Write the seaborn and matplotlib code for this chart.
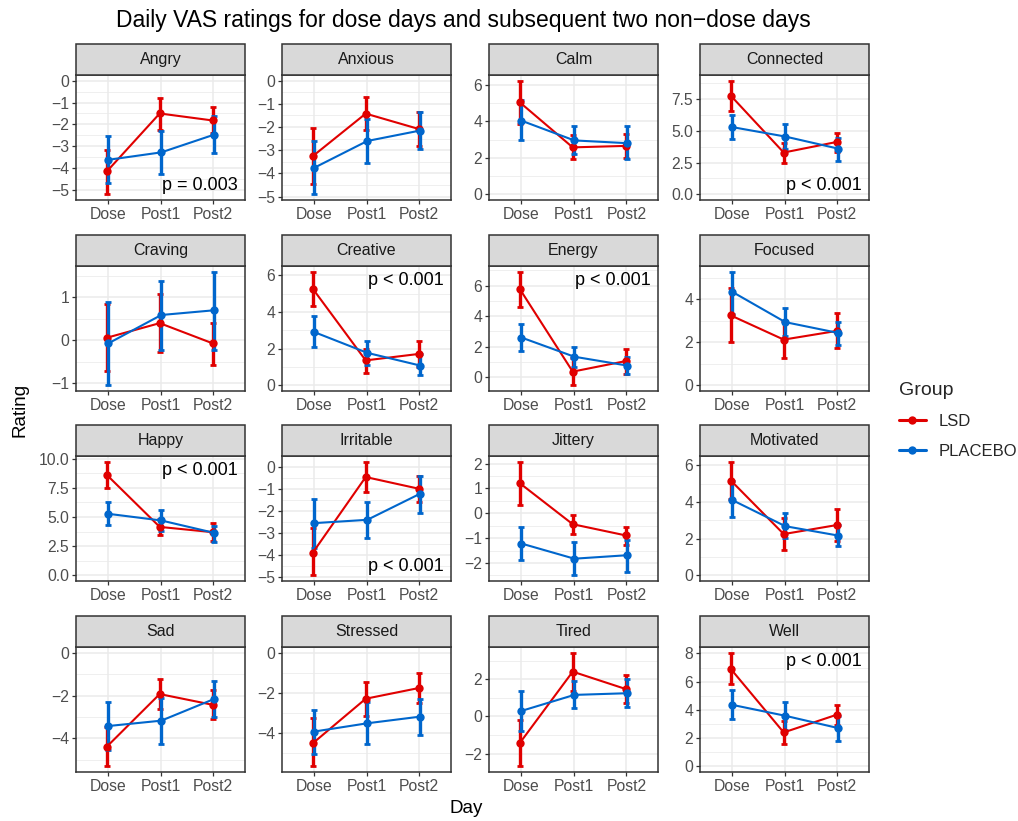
import numpy as np
import pandas as pd
import matplotlib
matplotlib.use("Agg")
import matplotlib.pyplot as plt
from matplotlib.patches import Rectangle
from matplotlib.lines import Line2D
from matplotlib.ticker import MultipleLocator
import seaborn as sns

# ---- data (mean, lower, upper) ----
days = ['Dose', 'Post1', 'Post2']
groups = ['LSD', 'PLACEBO']
measures = ['Angry', 'Anxious', 'Calm', 'Connected',
            'Craving', 'Creative', 'Energy', 'Focused',
            'Happy', 'Irritable', 'Jittery', 'Motivated',
            'Sad', 'Stressed', 'Tired', 'Well']

lsd_mean = {
    'Angry': [-4.15, -1.50, -1.82], 'Anxious': [-3.25, -1.42, -2.08],
    'Calm': [5.03, 2.57, 2.65], 'Connected': [7.76, 3.29, 4.12],
    'Craving': [0.06, 0.40, -0.07], 'Creative': [5.26, 1.36, 1.71],
    'Energy': [5.77, 0.35, 1.04], 'Focused': [3.24, 2.12, 2.52],
    'Happy': [8.60, 4.15, 3.70], 'Irritable': [-3.88, -0.44, -0.97],
    'Jittery': [1.21, -0.44, -0.89], 'Motivated': [5.17, 2.25, 2.74],
    'Sad': [-4.38, -1.93, -2.43], 'Stressed': [-4.50, -2.29, -1.76],
    'Tired': [-1.42, 2.41, 1.48], 'Well': [6.89, 2.40, 3.65],
}
lsd_lo = {
    'Angry': [-5.20, -2.25, -2.40], 'Anxious': [-4.45, -2.12, -2.80],
    'Calm': [3.85, 1.91, 2.00], 'Connected': [6.58, 2.47, 3.32],
    'Craving': [-0.72, -0.27, -0.58], 'Creative': [4.32, 0.68, 1.00],
    'Energy': [4.62, -0.55, 0.22], 'Focused': [2.02, 1.29, 1.71],
    'Happy': [7.50, 3.44, 2.92], 'Irritable': [-4.92, -1.14, -1.58],
    'Jittery': [0.34, -0.85, -1.28], 'Motivated': [4.14, 1.40, 1.86],
    'Sad': [-5.30, -2.64, -3.10], 'Stressed': [-5.65, -3.13, -2.51],
    'Tired': [-2.68, 1.39, 0.75], 'Well': [5.84, 1.60, 2.94],
}
lsd_hi = {
    'Angry': [-3.15, -0.78, -1.22], 'Anxious': [-2.02, -0.72, -1.37],
    'Calm': [6.22, 3.22, 3.30], 'Connected': [8.95, 4.08, 4.84],
    'Craving': [0.84, 1.08, 0.41], 'Creative': [6.20, 2.00, 2.41],
    'Energy': [6.92, 1.25, 1.85], 'Focused': [4.50, 2.99, 3.36],
    'Happy': [9.74, 4.84, 4.50], 'Irritable': [-2.78, 0.26, -0.38],
    'Jittery': [2.08, -0.07, -0.54], 'Motivated': [6.20, 3.10, 3.63],
    'Sad': [-3.45, -1.25, -1.76], 'Stressed': [-3.25, -1.46, -0.99],
    'Tired': [-0.18, 3.43, 2.23], 'Well': [8.05, 3.18, 4.35],
}
pla_mean = {
    'Angry': [-3.62, -3.28, -2.47], 'Anxious': [-3.75, -2.60, -2.15],
    'Calm': [4.03, 2.95, 2.80], 'Connected': [5.29, 4.55, 3.60],
    'Craving': [-0.07, 0.59, 0.70], 'Creative': [2.90, 1.77, 1.08],
    'Energy': [2.59, 1.33, 0.75], 'Focused': [4.33, 2.93, 2.43],
    'Happy': [5.27, 4.70, 3.64], 'Irritable': [-2.54, -2.39, -1.20],
    'Jittery': [-1.22, -1.83, -1.69], 'Motivated': [4.10, 2.68, 2.17],
    'Sad': [-3.42, -3.17, -2.16], 'Stressed': [-3.92, -3.51, -3.18],
    'Tired': [0.30, 1.16, 1.25], 'Well': [4.35, 3.58, 2.71],
}
pla_lo = {
    'Angry': [-4.70, -4.28, -3.33], 'Anxious': [-4.90, -3.55, -2.95],
    'Calm': [2.98, 2.22, 1.95], 'Connected': [4.34, 3.58, 2.63],
    'Craving': [-1.05, -0.22, -0.22], 'Creative': [2.10, 1.10, 0.55],
    'Energy': [1.71, 0.66, 0.22], 'Focused': [3.33, 2.29, 1.86],
    'Happy': [4.35, 3.78, 2.84], 'Irritable': [-3.68, -3.22, -2.08],
    'Jittery': [-1.88, -2.50, -2.35], 'Motivated': [3.19, 2.04, 1.59],
    'Sad': [-4.55, -4.24, -3.00], 'Stressed': [-5.02, -4.52, -4.08],
    'Tired': [-0.80, 0.45, 0.50], 'Well': [3.36, 2.59, 1.81],
}
pla_hi = {
    'Angry': [-2.55, -2.30, -1.60], 'Anxious': [-2.58, -1.65, -1.33],
    'Calm': [5.16, 3.73, 3.73], 'Connected': [6.24, 5.53, 4.47],
    'Craving': [0.90, 1.38, 1.60], 'Creative': [3.78, 2.41, 1.70],
    'Energy': [3.47, 1.98, 1.32], 'Focused': [5.27, 3.57, 2.95],
    'Happy': [6.27, 5.64, 4.27], 'Irritable': [-1.43, -1.57, -0.38],
    'Jittery': [-0.54, -1.15, -1.07], 'Motivated': [5.15, 3.41, 2.72],
    'Sad': [-2.31, -2.12, -1.30], 'Stressed': [-2.85, -2.46, -2.29],
    'Tired': [1.38, 1.91, 2.00], 'Well': [5.41, 4.59, 3.58],
}

# p-value annotations: (text, placement)
p_labels = {
    'Angry': ('p = 0.003', 'bottom'), 'Connected': ('p < 0.001', 'bottom'),
    'Creative': ('p < 0.001', 'top'), 'Energy': ('p < 0.001', 'top'),
    'Happy': ('p < 0.001', 'top'), 'Irritable': ('p < 0.001', 'bottom'),
    'Well': ('p < 0.001', 'top'),
}

# y tick step per panel (matches ggplot's breaks)
tick_step = {
    'Angry': 1, 'Anxious': 1, 'Calm': 2, 'Connected': 2.5,
    'Craving': 1, 'Creative': 2, 'Energy': 2, 'Focused': 2,
    'Happy': 2.5, 'Irritable': 1, 'Jittery': 1, 'Motivated': 2,
    'Sad': 2, 'Stressed': 2, 'Tired': 2, 'Well': 2,
}

rows = []
for m in measures:
    for g, mean, lo, hi in [('LSD', lsd_mean, lsd_lo, lsd_hi),
                            ('PLACEBO', pla_mean, pla_lo, pla_hi)]:
        for i, d in enumerate(days):
            rows.append({'Measure': m, 'Group': g, 'Day': d, 'x': i,
                         'mean': mean[m][i], 'lo': lo[m][i], 'hi': hi[m][i]})
df = pd.DataFrame(rows)

# ---- styling ----
sns.set_theme(style="white")
plt.rcParams['font.family'] = ['Liberation Sans', 'DejaVu Sans']
palette = {'LSD': '#E00000', 'PLACEBO': '#0066CC'}
dodge = {'LSD': -0.015, 'PLACEBO': 0.015}
df['xd'] = df['x'] + df['Group'].map(dodge)

W, H = 1018, 821
fig = plt.figure(figsize=(W / 100, H / 100), dpi=100)

col_left = [76, 282, 489, 700]
row_top = [75, 266, 456, 647]
pw, ph = 169, 125
strip_h = 31

for k, m in enumerate(measures):
    r, c = divmod(k, 4)
    ax = fig.add_axes([col_left[c] / W, 1 - (row_top[r] + ph) / H, pw / W, ph / H])
    sub = df[df['Measure'] == m]

    # error bars first (LSD, then PLACEBO)
    for g in groups:
        s = sub[sub['Group'] == g]
        ax.errorbar(s['xd'], s['mean'],
                    yerr=[s['mean'] - s['lo'], s['hi'] - s['mean']],
                    fmt='none', ecolor=palette[g], elinewidth=2.4,
                    capsize=2.2, capthick=2.0, zorder=3)
    sns.lineplot(data=sub, x='xd', y='mean', hue='Group', hue_order=groups,
                 palette=palette, marker='o', markersize=6, markeredgewidth=0,
                 linewidth=1.5, legend=False, ax=ax, zorder=4, sort=True,
                 estimator=None)

    ymin = min(sub['lo'].min(), 0)
    ymax = max(sub['hi'].max(), 0)
    pad = 0.05 * (ymax - ymin)
    ax.set_ylim(ymin - pad, ymax + pad)
    ax.set_xlim(-0.6, 2.6)
    ax.set_xticks(range(len(days)))
    ax.set_xticklabels(days)
    ax.yaxis.set_major_locator(MultipleLocator(tick_step[m]))
    ax.yaxis.set_minor_locator(MultipleLocator(tick_step[m] / 2))
    ax.set_xlabel('')
    ax.set_ylabel('')

    ax.set_facecolor('white')
    ax.grid(True, which='major', color='#EBEBEB', linewidth=1.1, zorder=0)
    ax.grid(True, which='minor', axis='y', color='#EBEBEB', linewidth=0.55, zorder=0)
    ax.set_axisbelow(True)
    for sp in ax.spines.values():
        sp.set_color('#333333')
        sp.set_linewidth(1.1)
    ax.tick_params(axis='both', which='major', direction='out', length=3,
                   width=0.9, color='#333333', labelcolor='#4D4D4D',
                   labelsize=11.3, pad=2, bottom=True, left=True)
    ax.tick_params(axis='y', which='minor', length=0, left=False)

    # facet strip
    sh = strip_h / ph
    ax.add_patch(Rectangle((0, 1), 1, sh, transform=ax.transAxes,
                           facecolor='#D9D9D9', edgecolor='#333333',
                           linewidth=1.1, clip_on=False, zorder=5))
    ax.text(0.5, 1 + sh / 2, m, transform=ax.transAxes, ha='center',
            va='center', fontsize=11.5, color='#1A1A1A', zorder=6)

    if m in p_labels:
        txt, where = p_labels[m]
        if where == 'top':
            ax.text(0.955, 0.95, txt, transform=ax.transAxes, ha='right',
                    va='top', fontsize=13, color='black', zorder=6)
        else:
            ax.text(0.955, 0.05, txt, transform=ax.transAxes, ha='right',
                    va='bottom', fontsize=13, color='black', zorder=6)

fig.text(463 / W, 1 - 20 / H, 'Daily VAS ratings for dose days and subsequent two non\u2212dose days',
         ha='center', va='center', fontsize=16.5, color='black')
fig.text(20 / W, 1 - 410 / H, 'Rating', rotation=90, ha='center', va='center',
         fontsize=13.5, color='black')
fig.text(466 / W, 1 - 808 / H, 'Day', ha='center', va='center',
         fontsize=13.5, color='black')

handles = [Line2D([0], [0], color=palette[g], marker='o', markersize=6,
                  markeredgewidth=0, linewidth=2.2) for g in groups]
leg = fig.legend(handles, groups, title='Group', loc='upper left',
                 bbox_to_anchor=(884 / W, 1 - 367 / H), frameon=False,
                 fontsize=12, title_fontsize=14, handlelength=1.6,
                 labelspacing=0.9, alignment='left')

fig.savefig('out.png', dpi=100)
